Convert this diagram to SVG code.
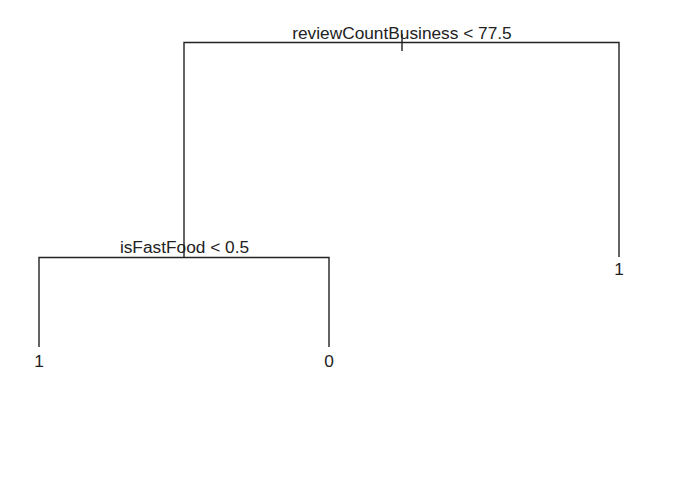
<svg xmlns="http://www.w3.org/2000/svg" width="700" height="482" viewBox="0 0 700 482">
<style>
.e{stroke:#222;stroke-width:1.4;fill:none}
text{font-family:"Liberation Sans",Arial,sans-serif;font-size:17.3px;fill:#222;text-anchor:middle}
</style>
<rect width="700" height="482" fill="#fff"/>
<g id="connectors">
<path class="e" d="M402,34V51"/>
<path class="e" d="M184,257V42.5H619V257"/>
<path class="e" d="M39,347V257.5H329V347"/>
</g>
<g id="root"><text x="402" y="39">reviewCountBusiness &lt; 77.5</text></g>
<g id="split2"><text x="184.5" y="253">isFastFood &lt; 0.5</text></g>
<g id="leafA"><text x="39" y="367">1</text></g>
<g id="leafB"><text x="329" y="367">0</text></g>
<g id="leafC"><text x="619" y="275">1</text></g>
</svg>
